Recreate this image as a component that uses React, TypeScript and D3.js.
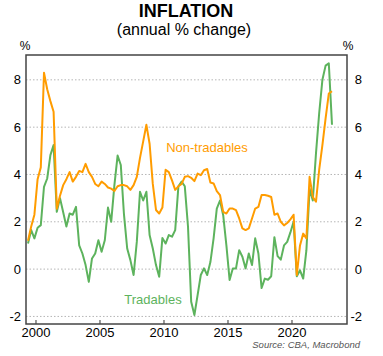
import React from "react";
import * as d3 from "d3";

// Quarterly data, first observation 1999 Q2, last 2023 Q1
const startYear = 1999;
const startQuarter = 2;

const tradables = [
  1.08, 1.65, 1.3, 1.75, 1.86, 3.48, 3.83, 4.82, 5.24, 2.42, 3.0, 2.4, 1.8, 2.35, 2.3, 2.63,
  1.0, 0.66, 0.17, -0.54, 0.45, 0.66, 1.22, 0.73, 1.22, 2.6, 2.0, 3.55, 4.8, 4.4, 2.3, 0.87,
  0.38, -0.25, 1.15, 3.27, 2.9, 3.27, 1.44, 0.87, 0.17, -0.32, 1.32, 1.08, 1.44, 1.37, 1.65, 3.5,
  3.7, 3.5, 1.8, -1.38, -1.94, -1.1, -0.25, 0.03, -0.25, 0.3, 1.3, 2.56, 2.9, 2.28, 1.0, -0.46,
  0.03, 0.03, 0.8, 0.52, 0.03, 0.66, 0.17, 1.3, 0.66, -0.8, -0.4, -0.45, -0.3, 1.35, 0.55, 0.4,
  1.0, 1.15, 1.55, 2.0, -0.3, -0.05, -0.4, 0.8, 3.4, 2.9, 4.9, 6.6, 8.0, 8.6, 8.7, 6.1,
];

const nonTradables = [
  1.2, 1.8, 2.3, 3.8, 4.3, 8.3, 7.6, 7.1, 6.65, 2.55, 3.1, 3.55, 3.8, 4.1, 3.7, 3.9,
  4.15, 4.1, 4.45, 4.1, 3.9, 3.6, 3.5, 3.7, 3.6, 3.45, 3.4, 3.3, 3.5, 3.55, 3.55, 3.5,
  3.35, 3.55, 3.9, 4.7, 5.4, 6.1, 5.3, 3.6, 2.5, 2.35, 2.6, 4.2, 4.1, 3.75, 3.35, 3.5,
  3.6, 3.9, 3.93, 3.86, 3.72, 4.04, 3.97, 4.18, 4.23, 3.66, 3.62, 3.3, 3.13, 2.42, 2.35, 2.56,
  2.56, 2.49, 2.14, 1.72, 1.65, 1.72, 2.14, 2.56, 2.63, 3.13, 3.13, 3.1, 3.05, 2.3, 2.35, 2.0,
  1.85, 1.95, 2.1, 2.3, -0.25, 1.0, 1.5, 1.3, 3.9, 3.05, 2.85, 4.2, 5.24, 6.37, 7.42, 7.52,
];

const yTicks = [-2, 0, 2, 4, 6, 8];
const xTicks = [2000, 2005, 2010, 2015, 2020];

const W = 383;
const H = 356;
const FONT = "'Liberation Sans', Arial, Helvetica, sans-serif";
const ORANGE = "#FF9C00";
const GREEN = "#5DB35D";

function quarterTime(i: number): number {
  const q0 = startQuarter - 1 + i;
  const year = startYear + Math.floor(q0 / 4);
  const q = q0 % 4;
  return year + q / 4 + 0.125;
}

export default function App() {
  const left = 26;
  const right = 347;
  const top = 55;
  const bottom = 324;

  const x = d3.scaleLinear().domain([1999.219, 2024.297]).range([left, right]);
  const y = d3.scaleLinear().domain([-2.32, 9.05]).range([bottom, top]);

  const line = d3
    .line<number>()
    .x((_, i) => x(quarterTime(i)))
    .y((d) => y(d));

  return (
    <svg
      width={W}
      height={H}
      style={{ position: "absolute", left: 0, top: 0, background: "#fff" }}
      fontFamily={FONT}
    >
      <rect x={0} y={0} width={W} height={H} fill="#fff" />
      <text x={186} y={17} textAnchor="middle" fontSize={18} fontWeight="bold" fill="#000">
        INFLATION
      </text>
      <text x={184} y={35} textAnchor="middle" fontSize={16} fill="#000">
        (annual % change)
      </text>
      <text x={25} y={50} textAnchor="middle" fontSize={12} fill="#000">
        %
      </text>
      <text x={348} y={50} textAnchor="middle" fontSize={12} fill="#000">
        %
      </text>

      {yTicks.map((t) => (
        <g key={t}>
          <line
            x1={left}
            x2={right}
            y1={y(t)}
            y2={y(t)}
            stroke="#b5b5b5"
            strokeWidth={1}
            strokeDasharray="1.5,2"
          />
          <text x={21} y={y(t) + 4.5} textAnchor="end" fontSize={13} fill="#000">
            {t < 0 ? "-" + Math.abs(t) : t}
          </text>
          <text x={362} y={y(t) + 4.5} textAnchor="end" fontSize={13} fill="#000">
            {t < 0 ? "-" + Math.abs(t) : t}
          </text>
        </g>
      ))}

      {xTicks.map((t) => (
        <g key={t}>
          <line x1={x(t)} x2={x(t)} y1={bottom} y2={bottom - 4} stroke="#333" strokeWidth={1} />
          <text x={x(t)} y={337} textAnchor="middle" fontSize={13} fill="#000">
            {t}
          </text>
        </g>
      ))}

      <path d={line(tradables) || ""} fill="none" stroke={GREEN} strokeWidth={2} strokeLinejoin="round" />
      <path d={line(nonTradables) || ""} fill="none" stroke={ORANGE} strokeWidth={2} strokeLinejoin="round" />

      <rect
        x={left}
        y={top}
        width={right - left}
        height={bottom - top}
        fill="none"
        stroke="#444"
        strokeWidth={1.5}
      />

      <text x={207} y={152} textAnchor="middle" fontSize={13} fill={ORANGE}>
        Non-tradables
      </text>
      <text x={153} y={304} textAnchor="middle" fontSize={13} fill={GREEN}>
        Tradables
      </text>

      <text x={360} y={348} textAnchor="end" fontSize={9.5} fontStyle="italic" fill="#555">
        Source: CBA, Macrobond
      </text>
    </svg>
  );
}
